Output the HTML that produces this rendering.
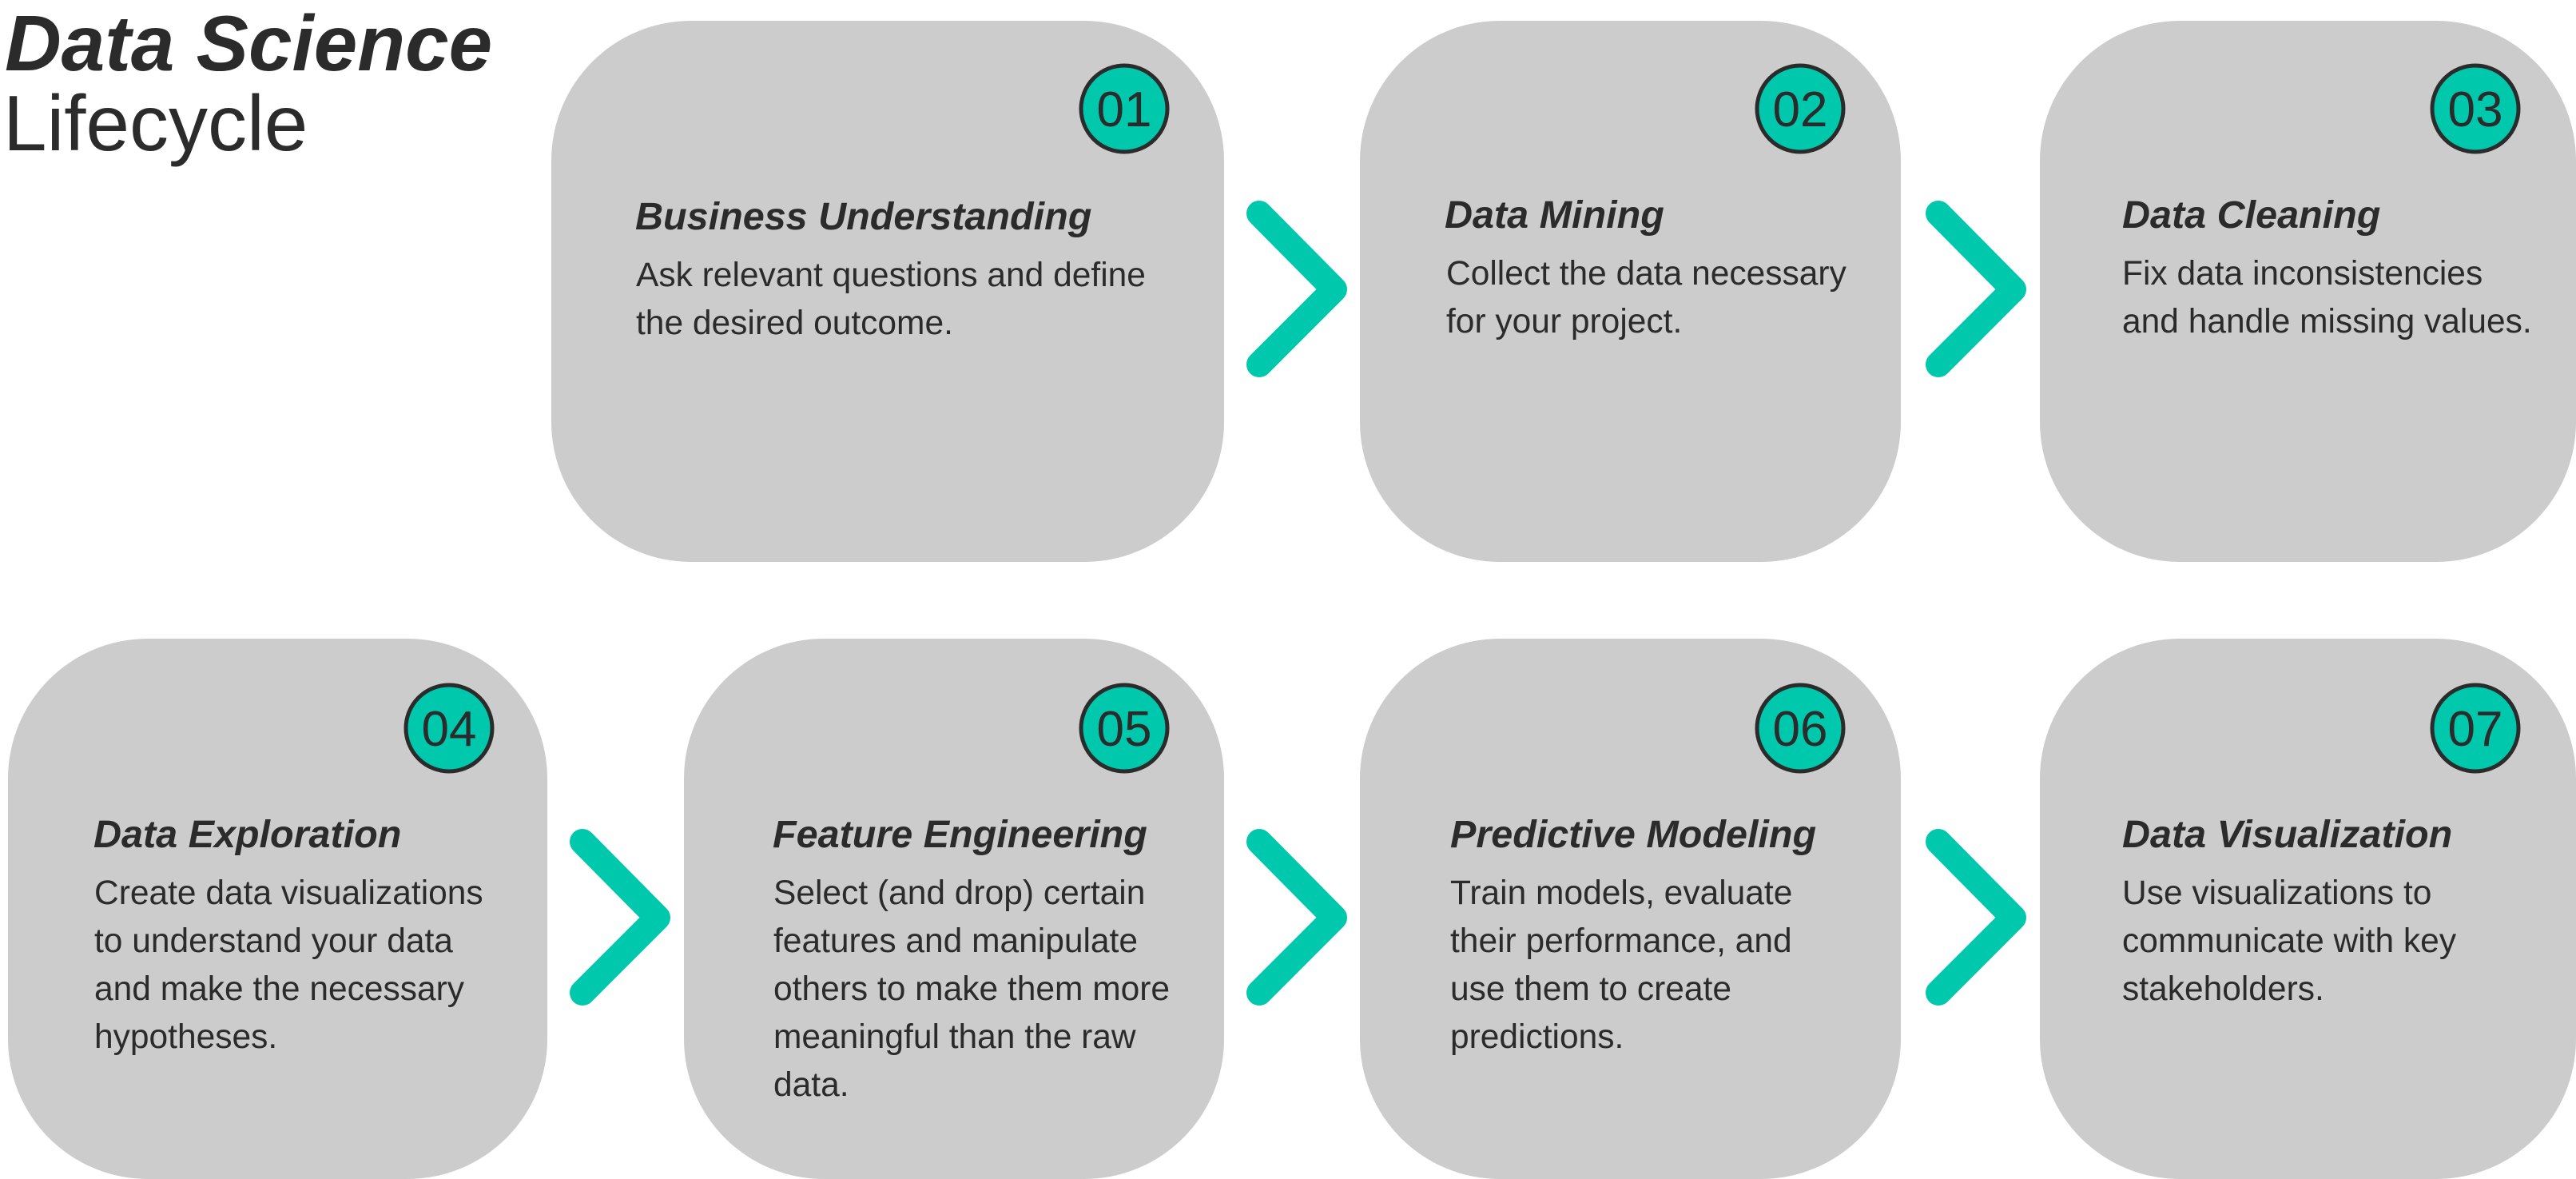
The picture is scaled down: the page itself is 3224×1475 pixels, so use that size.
<!DOCTYPE html>
<html><head><meta charset="utf-8"><style>
html,body{margin:0;padding:0;background:#fff;}
svg{display:block;}
.t{font-family:"Liberation Sans",sans-serif;font-weight:bold;font-style:italic;font-size:48.5px;fill:#2b2b2b;}
.b{font-family:"Liberation Sans",sans-serif;font-size:42.5px;fill:#2b2b2b;}
.n{font-family:"Liberation Sans",sans-serif;font-size:62px;fill:#2b2b2b;text-anchor:middle;}
.c{fill:none;stroke:#00c8ad;stroke-width:32;stroke-linecap:round;stroke-linejoin:round;}
.bx{fill:#cccccc;}
.ci{fill:#00c8ad;stroke:#2b2b2b;stroke-width:5;}
</style></head><body>
<svg width="3224" height="1475" viewBox="0 0 3224 1475" xmlns="http://www.w3.org/2000/svg">
<text x="6" y="88" font-family="Liberation Sans, sans-serif" font-weight="bold" font-style="italic" font-size="98" fill="#2b2b2b">Data Science</text>
<text x="4" y="188" font-family="Liberation Sans, sans-serif" font-size="98" fill="#2b2b2b">Lifecycle</text>

<rect class="bx" x="690" y="26" width="842" height="677" rx="175" ry="175"/>
<rect class="bx" x="1702" y="26" width="677" height="677" rx="175" ry="175"/>
<rect class="bx" x="2553" y="26" width="671" height="677" rx="175" ry="175"/>
<rect class="bx" x="10" y="799" width="675" height="676" rx="175" ry="175"/>
<rect class="bx" x="856" y="799" width="676" height="676" rx="175" ry="175"/>
<rect class="bx" x="1702" y="799" width="677" height="676" rx="175" ry="175"/>
<rect class="bx" x="2553" y="799" width="671" height="676" rx="175" ry="175"/>

<polyline class="c" points="1576,267 1670,362 1576,456"/>
<polyline class="c" points="2426,267 2520,362 2426,456"/>
<polyline class="c" points="729,1053 823,1148 729,1242"/>
<polyline class="c" points="1576,1053 1670,1148 1576,1242"/>
<polyline class="c" points="2426,1053 2520,1148 2426,1242"/>

<circle class="ci" cx="1407" cy="136" r="54"/><text class="n" x="1407" y="158">01</text>
<circle class="ci" cx="2253" cy="136" r="54"/><text class="n" x="2253" y="158">02</text>
<circle class="ci" cx="3098" cy="136" r="54"/><text class="n" x="3098" y="158">03</text>
<circle class="ci" cx="562" cy="911" r="54"/><text class="n" x="562" y="933">04</text>
<circle class="ci" cx="1407" cy="911" r="54"/><text class="n" x="1407" y="933">05</text>
<circle class="ci" cx="2253" cy="911" r="54"/><text class="n" x="2253" y="933">06</text>
<circle class="ci" cx="3098" cy="911" r="54"/><text class="n" x="3098" y="933">07</text>

<text class="t" x="795" y="287">Business Understanding</text>
<text class="b" x="796" y="358">Ask relevant questions and define</text>
<text class="b" x="796" y="418">the desired outcome.</text>

<text class="t" x="1808" y="285">Data Mining</text>
<text class="b" x="1810" y="356">Collect the data necessary</text>
<text class="b" x="1810" y="416">for your project.</text>

<text class="t" x="2656" y="285">Data Cleaning</text>
<text class="b" x="2656" y="356">Fix data inconsistencies</text>
<text class="b" x="2656" y="416">and handle missing values.</text>

<text class="t" x="117" y="1060">Data Exploration</text>
<text class="b" x="118" y="1131">Create data visualizations</text>
<text class="b" x="118" y="1191">to understand your data</text>
<text class="b" x="118" y="1251">and make the necessary</text>
<text class="b" x="118" y="1311">hypotheses.</text>

<text class="t" x="967" y="1060">Feature Engineering</text>
<text class="b" x="968" y="1131">Select (and drop) certain</text>
<text class="b" x="968" y="1191">features and manipulate</text>
<text class="b" x="968" y="1251">others to make them more</text>
<text class="b" x="968" y="1311">meaningful than the raw</text>
<text class="b" x="968" y="1371">data.</text>

<text class="t" x="1815" y="1060">Predictive Modeling</text>
<text class="b" x="1815" y="1131">Train models, evaluate</text>
<text class="b" x="1815" y="1191">their performance, and</text>
<text class="b" x="1815" y="1251">use them to create</text>
<text class="b" x="1815" y="1311">predictions.</text>

<text class="t" x="2656" y="1060">Data Visualization</text>
<text class="b" x="2656" y="1131">Use visualizations to</text>
<text class="b" x="2656" y="1191">communicate with key</text>
<text class="b" x="2656" y="1251">stakeholders.</text>
</svg>
</body></html>
